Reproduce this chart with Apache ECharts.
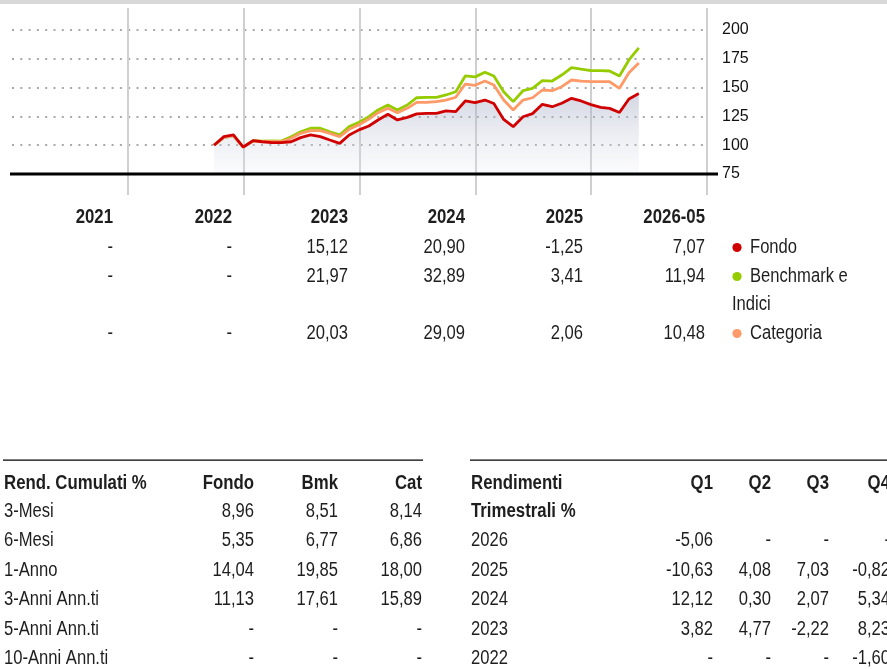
<!DOCTYPE html>
<html>
<head>
<meta charset="utf-8">
<script src="https://cdn.jsdelivr.net/npm/echarts@6/dist/echarts.min.js"></script>
<style>
  html, body { margin: 0; padding: 0; background: #fff; }
  #chart { width: 887px; height: 669px; }
</style>
</head>
<body>
<div id="chart"></div>
<script>
// Month-end observation dates of the growth series (base 100)
const months = [
  '2022-09-30', '2022-10-31', '2022-11-30', '2022-12-31',
  '2023-01-31', '2023-02-28', '2023-03-31', '2023-04-30', '2023-05-31', '2023-06-30',
  '2023-07-31', '2023-08-31', '2023-09-30', '2023-10-31', '2023-11-30', '2023-12-31',
  '2024-01-31', '2024-02-29', '2024-03-31', '2024-04-30', '2024-05-31', '2024-06-30',
  '2024-07-31', '2024-08-31', '2024-09-30', '2024-10-31', '2024-11-30', '2024-12-31',
  '2025-01-31', '2025-02-28', '2025-03-31', '2025-04-30', '2025-05-31', '2025-06-30',
  '2025-07-31', '2025-08-31', '2025-09-30', '2025-10-31', '2025-11-30', '2025-12-31',
  '2026-01-31', '2026-02-28', '2026-03-31', '2026-04-30', '2026-05-31'
];

const fondo = [
  100.0, 107.4, 108.9, 98.4,
  103.9, 103.0, 102.2, 102.2, 103.0, 106.6, 108.9, 107.4, 104.5, 101.6, 108.9, 113.3,
  116.7, 121.9, 126.9, 121.9, 124.2, 127.2, 127.7, 127.7, 129.8, 129.1, 138.4, 136.9,
  139.2, 136.2, 122.4, 116.1, 124.7, 127.4, 135.5, 133.4, 136.4, 140.7, 138.4, 135.2,
  132.9, 132.0, 128.4, 140.1, 144.8
];

const benchmark = [
  100.0, 106.6, 108.2, 98.3,
  104.0, 103.6, 103.8, 103.6, 107.4, 111.7, 114.7, 114.7, 111.7, 108.9, 116.1, 119.9,
  124.7, 130.6, 134.9, 130.6, 134.9, 141.2, 141.6, 141.6, 143.6, 146.4, 160.1, 159.3,
  163.3, 160.1, 146.4, 137.8, 147.3, 149.4, 156.0, 155.7, 160.9, 167.3, 166.1, 164.7,
  164.7, 164.4, 160.1, 174.0, 184.4
];

const categoria = [
  100.0, 106.6, 108.0, 98.1,
  103.8, 103.2, 103.2, 103.0, 106.0, 110.3, 112.6, 112.6, 110.3, 107.4, 113.8, 117.7,
  122.7, 128.2, 132.0, 128.2, 132.0, 137.2, 137.2, 137.8, 139.2, 141.6, 153.1, 152.0,
  155.7, 152.3, 139.2, 130.6, 139.2, 141.2, 147.9, 147.3, 150.8, 156.6, 155.7, 155.1,
  155.1, 155.1, 149.4, 162.9, 171.4
];

const seriesNames = ['Fondo', 'Benchmark e Indici', 'Categoria'];
const seriesColors = ['#d10000', '#95cc00', '#fd9a68'];

// Calendar-year returns
const annualYears = ['2021', '2022', '2023', '2024', '2025', '2026-05'];
const annualFondo = ['-', '-', '15,12', '20,90', '-1,25', '7,07'];
const annualBmk = ['-', '-', '21,97', '32,89', '3,41', '11,94'];
const annualCat = ['-', '-', '20,03', '29,09', '2,06', '10,48'];

// Cumulative returns
const cumHeader = ['Rend. Cumulati %', 'Fondo', 'Bmk', 'Cat'];
const cumLabels = ['3-Mesi', '6-Mesi', '1-Anno', '3-Anni Ann.ti', '5-Anni Ann.ti', '10-Anni Ann.ti'];
const cumFondo = ['8,96', '5,35', '14,04', '11,13', '-', '-'];
const cumBmk = ['8,51', '6,77', '19,85', '17,61', '-', '-'];
const cumCat = ['8,14', '6,86', '18,00', '15,89', '-', '-'];

// Quarterly returns
const qTitle = ['Rendimenti', 'Trimestrali %'];
const qHeader = ['Q1', 'Q2', 'Q3', 'Q4'];
const qYears = ['2026', '2025', '2024', '2023', '2022'];
const q1 = ['-5,06', '-10,63', '12,12', '3,82', '-'];
const q2 = ['-', '4,08', '0,30', '4,77', '-'];
const q3 = ['-', '7,03', '2,07', '-2,22', '-'];
const q4 = ['-', '-0,82', '5,34', '8,23', '-1,60'];

// Condensed look: a regular sans squeezed horizontally
const SANS = "'Liberation Sans', Arial, sans-serif";
const TEXT_COLOR = '#1e1e1e';

function txt(text, x, y, align, bold) {
  return {
    type: 'text', x: x, y: y, z: 20,
    scaleX: bold ? 0.84 : 0.83,
    style: {
      text: text,
      font: (bold ? 'bold ' : '') + '20px ' + SANS,
      fill: TEXT_COLOR,
      align: align, textAlign: align,
      verticalAlign: 'middle', textVerticalAlign: 'middle'
    }
  };
}

const graphics = [];

// thin grey band along the top edge
graphics.push({ type: 'rect', z: 1, shape: { x: 0, y: 0, width: 887, height: 4 }, style: { fill: '#d9d9d9' } });
// chart baseline
graphics.push({ type: 'rect', z: 10, shape: { x: 10, y: 172.5, width: 708, height: 3 }, style: { fill: '#000' } });

// calendar-year table
const annualColX = [113, 232, 348, 465, 583, 705];
const annualRowsY = [247, 276, 333];
annualYears.forEach((y, i) => graphics.push(txt(y, annualColX[i], 217, 'right', true)));
[annualFondo, annualBmk, annualCat].forEach((row, r) => {
  row.forEach((v, i) => graphics.push(txt(v, annualColX[i], annualRowsY[r], 'right', false)));
});
// legend next to the table rows
const legendRows = [[seriesNames[0]], ['Benchmark e', 'Indici'], [seriesNames[2]]];
legendRows.forEach((lines, r) => {
  graphics.push({ type: 'circle', z: 20, shape: { cx: 737, cy: annualRowsY[r] + 0.5, r: 4.6 }, style: { fill: seriesColors[r] } });
  graphics.push(txt(lines[0], 750, annualRowsY[r], 'left', false));
  if (lines[1]) graphics.push(txt(lines[1], 732, 304, 'left', false));
});

// cumulative returns table
graphics.push({ type: 'rect', z: 20, shape: { x: 3, y: 459.5, width: 420, height: 1.2 }, style: { fill: '#000' } });
const cumColX = [4, 254, 338, 422];
const bottomRowsY = [483, 511, 540, 570, 599, 629, 658];
cumHeader.forEach((h, i) => graphics.push(txt(h, cumColX[i], bottomRowsY[0], i === 0 ? 'left' : 'right', true)));
cumLabels.forEach((lab, r) => {
  const y = bottomRowsY[r + 1];
  graphics.push(txt(lab, cumColX[0], y, 'left', false));
  graphics.push(txt(cumFondo[r], cumColX[1], y, 'right', false));
  graphics.push(txt(cumBmk[r], cumColX[2], y, 'right', false));
  graphics.push(txt(cumCat[r], cumColX[3], y, 'right', false));
});

// quarterly returns table (last column runs past the right edge)
graphics.push({ type: 'rect', z: 20, shape: { x: 470, y: 459.5, width: 420, height: 1.2 }, style: { fill: '#000' } });
const qColX = [471, 713, 771, 829, 890];
graphics.push(txt(qTitle[0], qColX[0], bottomRowsY[0], 'left', true));
graphics.push(txt(qTitle[1], qColX[0], bottomRowsY[1], 'left', true));
qHeader.forEach((h, i) => graphics.push(txt(h, qColX[i + 1], bottomRowsY[0], 'right', true)));
qYears.forEach((yr, r) => {
  const y = bottomRowsY[r + 2];
  graphics.push(txt(yr, qColX[0], y, 'left', false));
  [q1, q2, q3, q4].forEach((col, c) => graphics.push(txt(col[r], qColX[c + 1], y, 'right', false)));
});

const chart = echarts.init(document.getElementById('chart'), null, { renderer: 'canvas' });

const pairs = arr => months.map((m, i) => [m, arr[i]]);

chart.setOption({
  animation: false,
  backgroundColor: '#fff',
  grid: [
    { left: 12, top: 30, width: 695, height: 144 },
    { left: 12, top: 8, width: 695, height: 187 }
  ],
  xAxis: [
    {
      type: 'time', gridIndex: 0, min: '2021-01-01', max: '2027-01-01',
      axisLine: { show: false }, axisTick: { show: false }, axisLabel: { show: false },
      splitLine: { show: false }
    },
    {
      type: 'value', gridIndex: 1, min: 2021, max: 2027, interval: 1,
      axisLine: { show: false }, axisTick: { show: false }, axisLabel: { show: false },
      splitLine: { show: true, showMinLine: false, lineStyle: { color: '#cfcfcf', width: 2 } }
    }
  ],
  yAxis: [
    {
      type: 'value', gridIndex: 0, min: 75, max: 200, interval: 25, position: 'right',
      axisLine: { show: false }, axisTick: { show: false },
      axisLabel: { margin: 15, color: '#111', fontSize: 16, fontFamily: SANS },
      splitLine: { show: true, lineStyle: { color: '#a8a8a8', width: 2, type: [2, 6.3] } }
    },
    { type: 'value', gridIndex: 1, min: 0, max: 1, show: false }
  ],
  series: [
    {
      name: seriesNames[1], type: 'line', xAxisIndex: 0, yAxisIndex: 0,
      data: pairs(benchmark), showSymbol: false, symbol: 'none',
      lineStyle: { color: seriesColors[1], width: 2.8 }, z: 3
    },
    {
      name: seriesNames[2], type: 'line', xAxisIndex: 0, yAxisIndex: 0,
      data: pairs(categoria), showSymbol: false, symbol: 'none',
      lineStyle: { color: seriesColors[2], width: 2.8 }, z: 4
    },
    {
      name: seriesNames[0], type: 'line', xAxisIndex: 0, yAxisIndex: 0,
      data: pairs(fondo), showSymbol: false, symbol: 'none',
      lineStyle: { color: seriesColors[0], width: 2.8 }, z: 5,
      areaStyle: {
        color: new echarts.graphic.LinearGradient(0, 0, 0, 1, [
          { offset: 0, color: 'rgba(150,158,186,0.6)' },
          { offset: 1, color: 'rgba(235,237,243,0.3)' }
        ])
      }
    }
  ],
  graphic: graphics
});
</script>
</body>
</html>
